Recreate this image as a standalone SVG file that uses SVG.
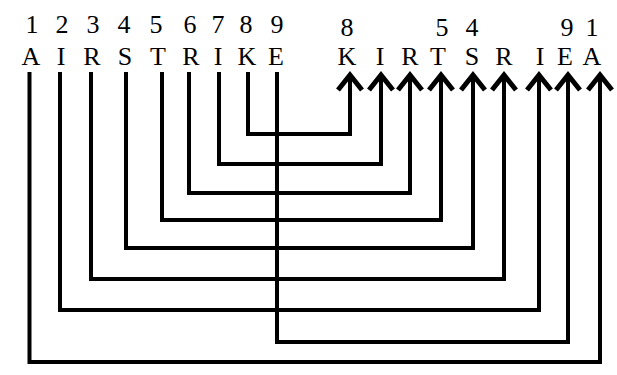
<svg xmlns="http://www.w3.org/2000/svg" width="617" height="375" viewBox="0 0 617 375">
<style>
text{font-family:"Liberation Serif","Times New Roman",serif;font-size:26px;fill:#000;text-anchor:middle}
.c{fill:none;stroke:#000;stroke-width:4;stroke-linejoin:miter;stroke-linecap:butt}
</style>
<defs>
<marker id="ah" markerUnits="userSpaceOnUse" markerWidth="40" markerHeight="40" refX="0" refY="0" orient="auto" overflow="visible">
<path d="M-15,-12 L0,0 L-15,12" fill="none" stroke="#000" stroke-width="5" stroke-linejoin="miter"/>
</marker>
</defs>
<rect width="617" height="375" fill="#fff"/>
<g id="left">
<g id="L1"><text x="32" y="33">1</text><text x="31" y="65">A</text></g>
<g id="L2"><text x="62" y="33">2</text><text x="61" y="65">I</text></g>
<g id="L3"><text x="93" y="33">3</text><text x="92" y="65">R</text></g>
<g id="L4"><text x="124" y="33">4</text><text x="125" y="65">S</text></g>
<g id="L5"><text x="156" y="33">5</text><text x="158" y="65">T</text></g>
<g id="L6"><text x="190" y="33">6</text><text x="191" y="65">R</text></g>
<g id="L7"><text x="218" y="33">7</text><text x="218" y="65">I</text></g>
<g id="L8"><text x="246" y="33">8</text><text x="247" y="65">K</text></g>
<g id="L9"><text x="277" y="33">9</text><text x="276" y="65">E</text></g>
</g>
<g id="right">
<g id="R8"><text x="347" y="36">8</text><text x="347" y="65">K</text></g>
<g id="R7"><text x="380" y="65">I</text></g>
<g id="R6"><text x="410" y="65">R</text></g>
<g id="R5"><text x="442" y="36">5</text><text x="438" y="65">T</text></g>
<g id="R4"><text x="472" y="36">4</text><text x="472" y="65">S</text></g>
<g id="R3"><text x="504" y="65">R</text></g>
<g id="R2"><text x="540" y="65">I</text></g>
<g id="R9"><text x="567" y="36">9</text><text x="565" y="65">E</text></g>
<g id="R1"><text x="592" y="36">1</text><text x="592" y="65">A</text></g>
</g>
<g id="connectors" class="c" marker-end="url(#ah)">
<path class="c" marker-end="url(#ah)" d="M29.5,72 V362 H600 V75"/>
<path class="c" marker-end="url(#ah)" d="M60,72 V310 H539 V75"/>
<path class="c" marker-end="url(#ah)" d="M91,72 V279 H504 V75"/>
<path class="c" marker-end="url(#ah)" d="M126,72 V248 H473 V75"/>
<path class="c" marker-end="url(#ah)" d="M162,72 V220 H441 V75"/>
<path class="c" marker-end="url(#ah)" d="M189,72 V193 H410 V75"/>
<path class="c" marker-end="url(#ah)" d="M219,72 V164 H381 V75"/>
<path class="c" marker-end="url(#ah)" d="M248,72 V134 H350 V75"/>
<path class="c" marker-end="url(#ah)" d="M277,72 V342 H568 V75"/>
</g>
</svg>
